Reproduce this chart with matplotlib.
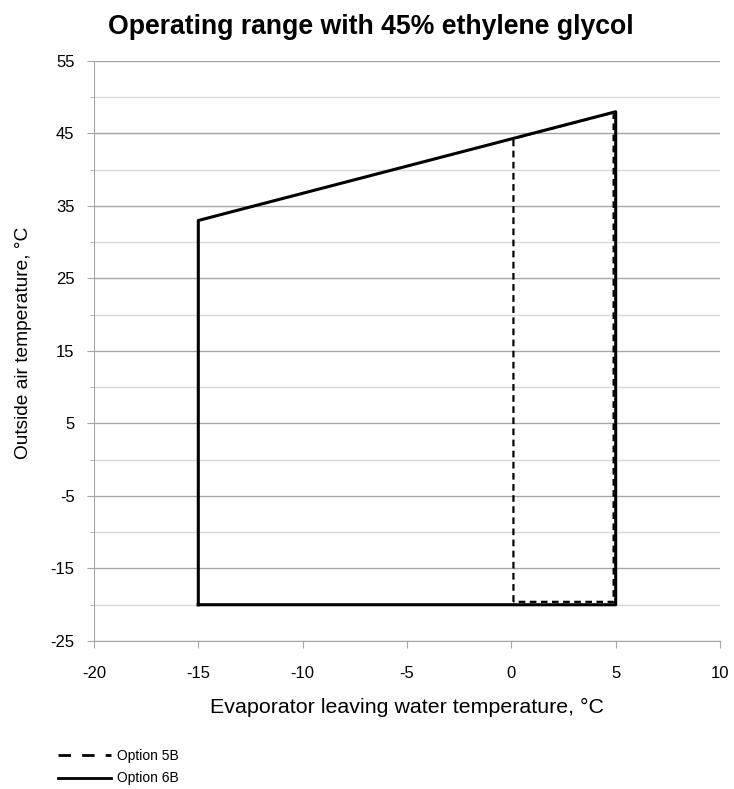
import matplotlib
matplotlib.use("Agg")
import matplotlib.pyplot as plt
from matplotlib.lines import Line2D
from matplotlib.ticker import MultipleLocator

plt.rcParams["font.family"] = ["Liberation Sans", "DejaVu Sans"]
plt.rcParams["axes.unicode_minus"] = False

# Operating envelopes (evaporator LWT, outside air temp)
opt5b_x = [0.1, 0.1, 4.9, 4.9, 0.1]
opt5b_y = [-19.6, 44.3, 47.9, -19.6, -19.6]
opt6b_x = [-15, -15, 5, 5, -15]
opt6b_y = [-20, 33, 48, -20, -20]

x_ticks = [-20, -15, -10, -5, 0, 5, 10]
y_ticks = [-25, -15, -5, 5, 15, 25, 35, 45, 55]

fig = plt.figure(figsize=(7.34, 7.89), dpi=100)
ax = fig.add_axes([0.128, 0.1876, 0.853, 0.7351])

ax.plot(opt5b_x, opt5b_y, color="black", lw=1.6, ls=(0, (3, 2)), zorder=3)
ax.plot(opt6b_x, opt6b_y, color="black", lw=2.2, zorder=3)

ax.set_xlim(-20, 10)
ax.set_ylim(-25, 55)
ax.set_xticks(x_ticks)
ax.set_yticks(y_ticks)
ax.yaxis.set_minor_locator(MultipleLocator(5))
ax.grid(which="major", axis="y", color="#a6a6a6", lw=1.0)
ax.grid(which="minor", axis="y", color="#d9d9d9", lw=1.0)
ax.set_axisbelow(True)

for s in ["top", "right"]:
    ax.spines[s].set_visible(False)
for s in ["left", "bottom"]:
    ax.spines[s].set_color("#a6a6a6")
ax.tick_params(which="major", color="#a6a6a6", length=5, labelsize=12)
ax.tick_params(which="minor", color="#a6a6a6", length=3)
ax.tick_params(axis="x", pad=13)
ax.tick_params(axis="y", pad=9)

ax.set_xlabel("Evaporator leaving water temperature, °C", fontsize=15.4, labelpad=12)
ax.set_ylabel("Outside air temperature, °C", fontsize=13.8)
ax.yaxis.set_label_coords(-0.099, 0.514)
fig.text(0.5055, 0.966, "Operating range with 45% ethylene glycol", ha="center", va="center",
         fontsize=19.2, fontweight="bold")

handles = [Line2D([], [], color="black", lw=2, ls=(0, (4.5, 4))),
           Line2D([], [], color="black", lw=2)]
fig.legend(handles, ["Option 5B", "Option 6B"], loc="upper left",
           bbox_to_anchor=(0.079, 0.051), frameon=False, fontsize=10,
           handlelength=3.8, handletextpad=0.45, labelspacing=0.62, borderpad=0,
           borderaxespad=0)

fig.savefig("out.png", dpi=100)
